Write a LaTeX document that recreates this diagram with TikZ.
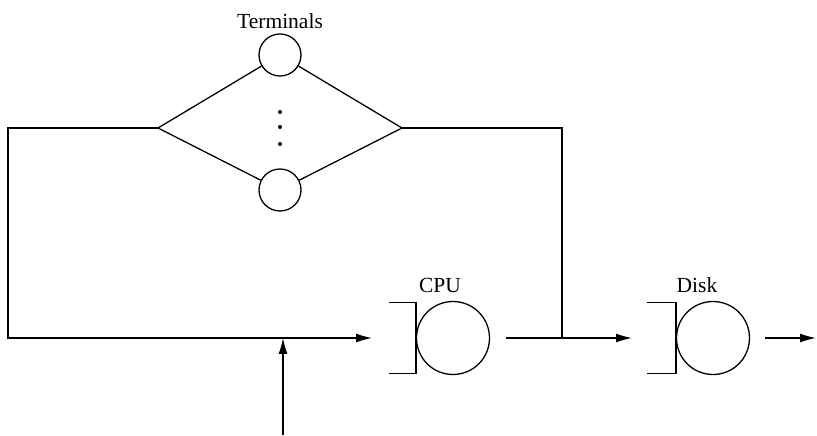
\documentclass[tikz,border=0pt]{standalone}
\usepackage{fontspec}
\setmainfont{Liberation Serif}
\usetikzlibrary{arrows.meta}

\begin{document}
\begin{tikzpicture}
[x=1pt, y=1pt, line width=1.3pt, font=\fontsize{21.5}{25}\selectfont,
 >={Latex[length=16pt, width=9pt]}]

\tikzstyle{term}=[circle, draw, inner sep=0pt, minimum size=42pt]
\tikzstyle{server}=[circle, draw, inner sep=0pt, minimum size=73pt]
\tikzstyle{dot}=[circle, fill, inner sep=0pt, minimum size=4pt]

\useasboundingbox (0,0) rectangle (817,436);

% terminals
\node[term]	(T1)	at (280,381)	[label={[yshift=1pt]above:{Terminals}}]	{};
\node[term]	(T2)	at (280,246)	{};
\node[dot]	(d1)	at (280,324)	{};
\node[dot]	(d2)	at (280,309)	{};
\node[dot]	(d3)	at (280,292)	{};
\coordinate	(L)	at (158,308);
\coordinate	(R)	at (402,308);
\draw (L)--(T1)--(R);
\draw (L)--(T2)--(R);

% queues
\node[server]	(CPU)	at (453,98)	[label={[xshift=-13pt,yshift=4pt]above:{CPU}}]	{};
\node[server]	(Disk)	at (713,98)	[label={[xshift=-16pt,yshift=4pt]above:{Disk}}]	{};
\draw (CPU.west) ++(-27,35.5) -- ++(27,0) -- ++(0,-71) -- ++(-27,0);
\draw (Disk.west) ++(-29,35.5) -- ++(29,0) -- ++(0,-71) -- ++(-29,0);

% feedback and flows
\coordinate	(TL)	at (8,308);
\coordinate	(BL)	at (8,98);
\coordinate	(inC)	at (372,98);
\coordinate	(src)	at (283,1);
\coordinate	(J1)	at (283,98);
\coordinate	(outC)	at (506,98);
\coordinate	(J2)	at (562,98);
\coordinate	(inD)	at (632,98);
\coordinate	(outD)	at (765,98);
\coordinate	(sink)	at (816,98);

\draw [->] (L)--(TL)--(BL)--(inC);
\draw [->] (src)--(J1);
\draw [->] (outC)--(inD);
\draw (J2) |- (R);
\draw [->] (outD)--(sink);
\end{tikzpicture}
\end{document}
